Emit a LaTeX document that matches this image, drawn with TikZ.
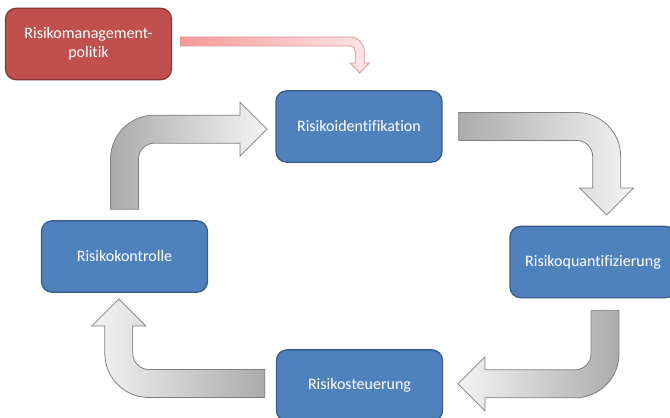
\documentclass[tikz,border=0pt]{standalone}
\usepackage{fontspec}
\setmainfont{Carlito}[Ligatures=NoCommon]
\definecolor{boxblue}{HTML}{4F81BD}
\definecolor{boxline}{HTML}{385D8A}
\definecolor{polred}{HTML}{C0504D}
\definecolor{polline}{HTML}{8C3836}
\definecolor{arrowdark}{HTML}{ABABAB}
\definecolor{arrowlight}{HTML}{F4F4F4}
\definecolor{arrowline}{HTML}{7F7F7F}
\definecolor{pinkdark}{HTML}{F59A98}
\definecolor{pinklight}{HTML}{FCE6E6}
\definecolor{pinkline}{HTML}{D99694}
\begin{document}
\begin{tikzpicture}[x=0.75pt,y=0.75pt]
\tikzstyle{every node}+=[inner sep=0pt]
\tikzstyle{box}=[draw=boxline, fill=boxblue, line width=1pt, rounded corners=8pt, minimum width=124.5pt, minimum height=53.5pt, text=white, align=center, font=\fontsize{12}{14}\selectfont]
\tikzstyle{blockarrow}=[draw=arrowline, line width=0.6pt]
\clip (0,0) rectangle (670,-417);
\node [box, fill=polred, draw=polline] (politik) at (88.5,-44) {Risikomanagement-\\politik};
\node [box] (ident) at (359,-126.5) {Risikoidentifikation};
\node [box] (quant) at (593,-262) {Risikoquantifizierung};
\node [box] (steuer) at (359.5,-385.5) {Risikosteuerung};
\node [box] (kontrolle) at (124.5,-256.5) {Risikokontrolle};
\draw [blockarrow, draw=pinkline, left color=pinkdark, right color=pinklight] ([shift={(8,7)}]politik.east) -- ++(170,0) arc [start angle=90, end angle=0, radius=14] -- ++(0,-12) -- ++(5,0) -- ++(-9.5,-10) -- ++(-9.5,10) -- ++(5,0) -- ++(0,12) arc [start angle=0, end angle=90, radius=5] -- ++(-170,0) -- cycle;
\draw [blockarrow, left color=arrowdark, right color=arrowlight] ([shift={(16,14)}]ident.east) -- ++(118,0) arc [start angle=90, end angle=0, radius=44] -- ++(0,-31.5) -- ++(13,0) -- ++(-27,-27) -- ++(-27,27) -- ++(13,0) -- ++(0,31.5) arc [start angle=0, end angle=90, radius=16] -- ++(-118,0) -- cycle;
\draw [blockarrow, left color=arrowlight, right color=arrowdark] ([shift={(26,-12)}]quant.south) -- ++(0,-43.5) arc [start angle=0, end angle=-90, radius=44] -- ++(-90,0) -- ++(0,-13) -- ++(-27,27) -- ++(27,27) -- ++(0,-13) -- ++(90,0) arc [start angle=-90, end angle=0, radius=16] -- ++(0,43.5) -- cycle;
\draw [blockarrow, left color=arrowlight, right color=arrowdark] ([shift={(-11,-12)}]steuer.west) -- ++(-116,0) arc [start angle=-90, end angle=-180, radius=44] -- ++(0,27.5) -- ++(-13,0) -- ++(27,27) -- ++(27,-27) -- ++(-13,0) -- ++(0,-27.5) arc [start angle=180, end angle=270, radius=16] -- ++(116,0) -- cycle;
\draw [blockarrow, left color=arrowdark, right color=arrowlight] ([shift={(-14,11)}]kontrolle.north) -- ++(0,50) arc [start angle=180, end angle=90, radius=44] -- ++(85.5,0) -- ++(0,13) -- ++(27,-27) -- ++(-27,-27) -- ++(0,13) -- ++(-85.5,0) arc [start angle=90, end angle=180, radius=16] -- ++(0,-50) -- cycle;

\end{tikzpicture}
\end{document}
